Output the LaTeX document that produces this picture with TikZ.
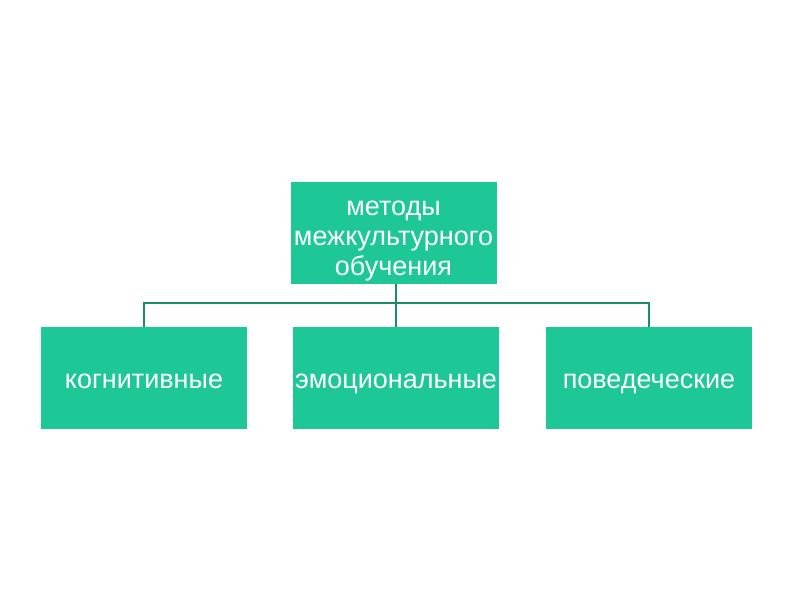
\documentclass[tikz,border=0pt]{standalone}
\usepackage{fontspec}
\setmainfont{Liberation Sans}
\definecolor{boxgreen}{HTML}{1DC896}
\definecolor{linegreen}{HTML}{1F8A6A}
\tikzset{
    methodbox/.style={fill=boxgreen,text=white,minimum width=206pt,minimum height=102pt,
        inner sep=0pt,align=center,font=\fontsize{27}{30}\selectfont,
        text height=21pt,text depth=1pt},
    link/.style={draw=linegreen,line width=1.8pt}
}

\begin{document}
\begin{tikzpicture}[x=1pt,y=-1pt]
    \useasboundingbox(0,0)rectangle(794,595);

    \node[methodbox,text height=87pt,text depth=2pt](top)at(393.5,232.5){методы\\межкультурного\\обучения};
    \node[methodbox](cog)at(144,378){когнитивные};
    \node[methodbox](emo)at(396,378){эмоциональные};
    \node[methodbox](beh)at(649,378){поведеческие};

    \coordinate(bus)at(396,303);
    \draw[link](top.south-|bus)--(bus);
    \draw[link](cog.north)|-(bus)-|(beh.north);
    \draw[link](bus)--(emo.north);
\end{tikzpicture}
\end{document}
